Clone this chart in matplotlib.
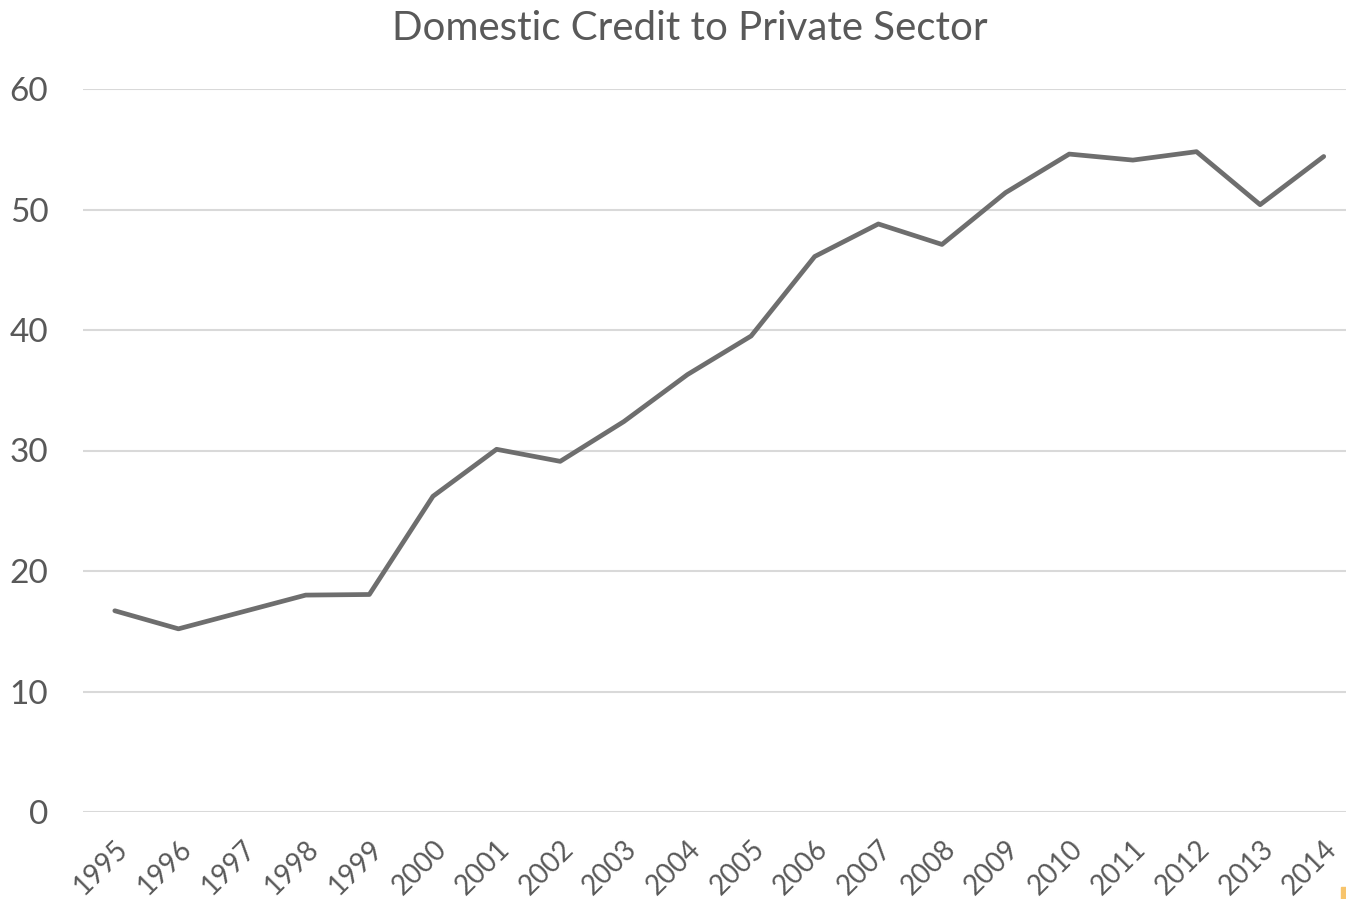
import matplotlib
matplotlib.use("Agg")
import matplotlib.pyplot as plt
from matplotlib.patches import Rectangle

years = ["1995", "1996", "1997", "1998", "1999", "2000", "2001", "2002", "2003", "2004",
         "2005", "2006", "2007", "2008", "2009", "2010", "2011", "2012", "2013", "2014"]
credit = [16.7, 15.2, 16.6, 18.0, 18.05, 26.2, 30.1, 29.1, 32.4, 36.3,
          39.5, 46.1, 48.8, 47.1, 51.4, 54.6, 54.1, 54.8, 50.4, 54.4]
yticks = [0, 10, 20, 30, 40, 50, 60]

plt.rcParams['font.family'] = ['Lato', 'DejaVu Sans']
TXT = '#595959'

fig = plt.figure(figsize=(13.46, 8.99), dpi=100)
W, H = 1346, 899
ax = fig.add_axes([83 / W, (H - 812) / H, (1346 - 83) / W, (812 - 89) / H])

x = list(range(len(years)))
ax.plot(x, credit, color='#6e6e6e', linewidth=3.4, solid_capstyle='round', solid_joinstyle='round', zorder=3)

ax.set_xlim(-0.5, 19.35)
ax.set_ylim(0, 60)
ax.set_yticks(yticks)
ax.set_yticklabels([str(v) for v in yticks], fontsize=24, color=TXT)
ax.yaxis.grid(True, color='#d9d9d9', linewidth=1.5)
ax.set_axisbelow(True)
ax.tick_params(axis='y', length=0, pad=25)
ax.set_xticks(x)
ax.set_xticklabels(years, rotation=45, ha='right', rotation_mode='anchor', fontsize=20, color=TXT)
ax.tick_params(axis='x', length=0, pad=17)
for lbl in ax.get_xticklabels():
    lbl.set_x(lbl.get_position()[0])
for s in ax.spines.values():
    s.set_visible(False)
ax.set_facecolor('white')

fig.text(690 / W, 1 - 28 / H, "Domestic Credit to Private Sector", ha='center', va='center',
         fontsize=29, color=TXT)

fig.patches.append(Rectangle((1341 / W, 0), 5 / W, 12 / H, transform=fig.transFigure,
                             color='#f7c46c', zorder=0))

fig.savefig("out.png", dpi=100, facecolor='white')
